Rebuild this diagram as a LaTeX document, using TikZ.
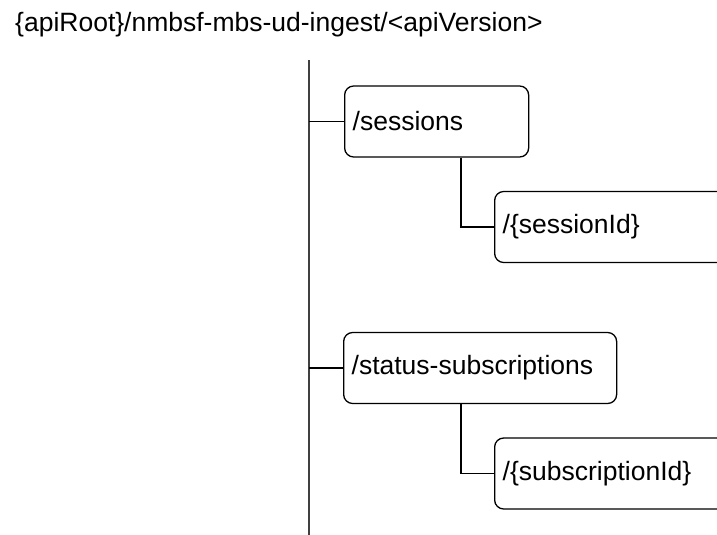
\documentclass[tikz,border=0pt]{standalone}
\usepackage{fontspec}
\setmainfont{Liberation Sans}
\begin{document}
\begin{tikzpicture}[x=1pt,y=-1pt,
  res/.style={draw=black, line width=1.3pt, rounded corners=9pt, inner xsep=8pt,
    minimum height=71pt, align=left, anchor=west, font=\fontsize{26.5}{30}\selectfont},
  link/.style={draw=black, line width=1.2pt},
  rootln/.style={draw=black!75, line width=2pt}]
\useasboundingbox (0,0) rectangle (717,535);
\clip (0,0) rectangle (717,535);
\node[anchor=base west, inner sep=0pt, font=\fontsize{26.5}{30}\selectfont] (title) at (15,32) {\{apiRoot\}/nmbsf-mbs-ud-ingest/<apiVersion>};
\coordinate (rtop) at (309,60);
\coordinate (rbot) at (309,540);
\draw[rootln] (rtop) -- (rbot);
\node[res, text width=168pt] (sessions) at (344,121.5) {/sessions};
\node[res, text width=260pt] (sid) at (494,227) {/\{sessionId\}};
\node[res, text width=257pt] (status) at (343,368) {/status-subscriptions};
\node[res, text width=260pt] (subid) at (494,473.5) {/\{subscriptionId\}};
\draw[link] (sessions.west) -- (sessions.west -| rtop);
\draw[link] (status.west) -- (status.west -| rtop);
\draw[link] ([xshift=117pt]sessions.south west) |- (sid.west);
\draw[link] ([xshift=118pt]status.south west) |- (subid.west);
\end{tikzpicture}
\end{document}
